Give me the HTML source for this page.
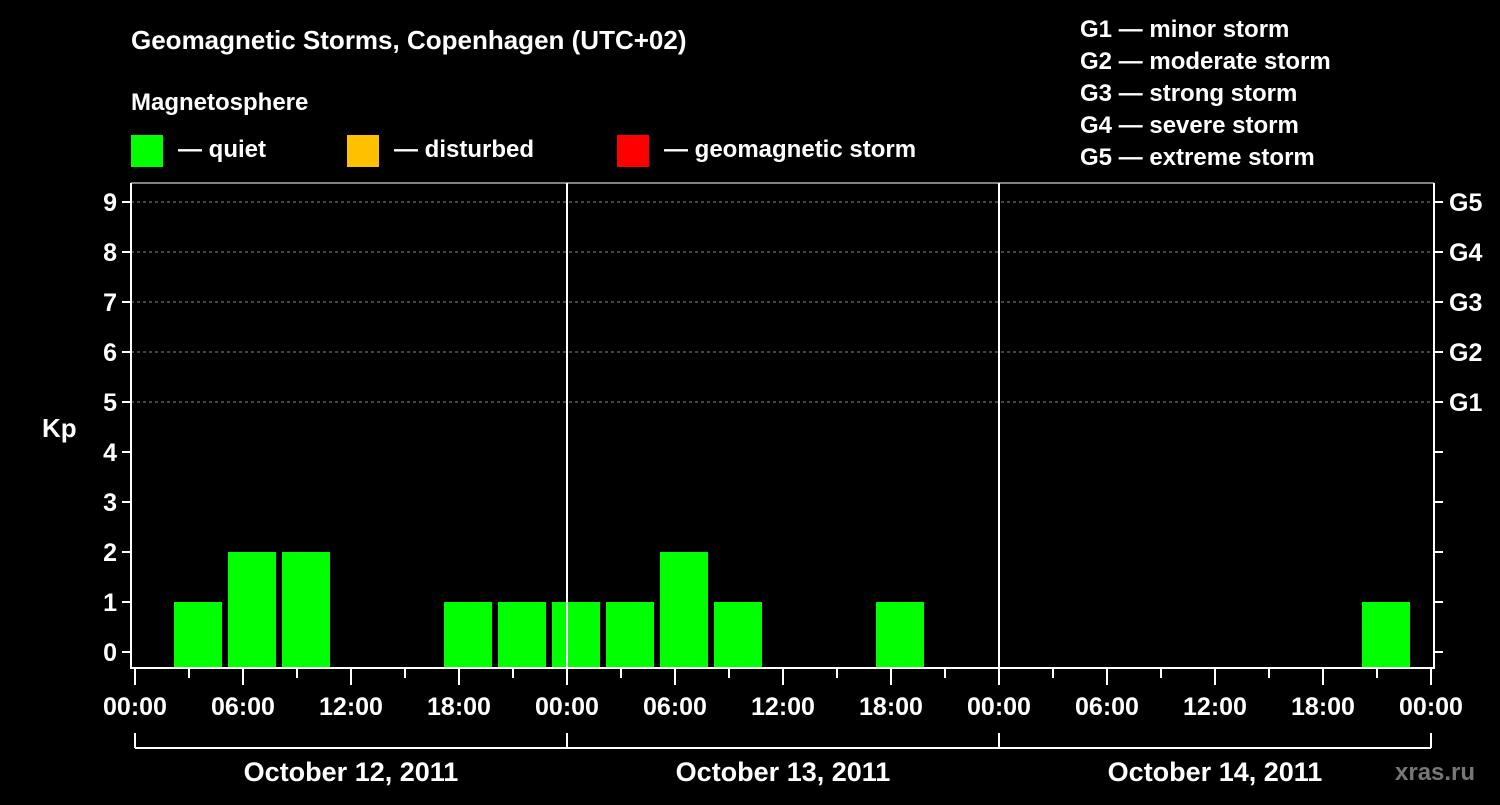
<!DOCTYPE html>
<html><head><meta charset="utf-8"><style>
html,body{margin:0;padding:0;background:#000;}
svg text{font-family:"Liberation Sans",sans-serif;font-weight:bold;fill:#fff;}
</style></head><body>
<svg id="chart" width="1500" height="800" xmlns="http://www.w3.org/2000/svg">
<rect width="1500" height="800" fill="#000"/>
<text x="131" y="49" font-size="26">Geomagnetic Storms, Copenhagen (UTC+02)</text>
<text x="131" y="110" font-size="24">Magnetosphere</text>
<g><rect x="131" y="135" width="32" height="32" fill="#00ff00"/><text x="178" y="157" font-size="24">— quiet</text></g>
<g><rect x="347" y="135" width="32" height="32" fill="#ffc000"/><text x="394" y="157" font-size="24">— disturbed</text></g>
<g><rect x="617" y="135" width="32" height="32" fill="#ff0000"/><text x="664" y="157" font-size="24">— geomagnetic storm</text></g>
<g font-size="24">
<text x="1080" y="37">G1 — minor storm</text>
<text x="1080" y="69">G2 — moderate storm</text>
<text x="1080" y="101">G3 — strong storm</text>
<text x="1080" y="133">G4 — severe storm</text>
<text x="1080" y="165">G5 — extreme storm</text>
</g>
<text x="42" y="437" font-size="26">Kp</text>
<text x="1395" y="780" font-size="24" fill="#777" style="fill:#777">xras.ru</text>
<g id="grid"></g><g id="bars"></g><g id="axes"></g>
</svg>
<script>
const kpValues=[0,1,2,2,0,0,1,1,1,1,2,1,0,0,1,0,0,0,0,0,0,0,0,1];
const yTickLabels=["0","1","2","3","4","5","6","7","8","9"];
const gLabels=["","","","","","G1","G2","G3","G4","G5"];
const xTickLabels=["00:00","06:00","12:00","18:00","00:00","06:00","12:00","18:00","00:00","06:00","12:00","18:00","00:00"];
const dayLabels=["October 12, 2011","October 13, 2011","October 14, 2011"];
const NS="http://www.w3.org/2000/svg";
const X0=135,DAY=432,SLOT=54,BOTTOM=668,LEFT=131,RIGHT=1434,TOP=183;
function yOf(v){return 652-v*50;}
function xOfHour(h){return X0+h*DAY/24;}
function mk(tag,attrs,parent){const e=document.createElementNS(NS,tag);for(const k in attrs)e.setAttribute(k,attrs[k]);parent.appendChild(e);return e;}
const grid=document.getElementById('grid'),bars=document.getElementById('bars'),axes=document.getElementById('axes');
for(let i=5;i<yTickLabels.length;i++){
  const l=mk('line',{x1:LEFT,x2:RIGHT,y1:yOf(i),y2:yOf(i),stroke:'#888','stroke-dasharray':'3,3','stroke-width':1},grid);
  
  
}
kpValues.forEach((v,k)=>{
  if(v<=0)return;
  const cx=xOfHour(k*3)+9;
  const col=v>=5?'#ff0000':(v>=4?'#ffc000':'#00ff00');
  const r=mk('rect',{x:cx-24,y:yOf(v),width:48,height:BOTTOM-1-yOf(v),fill:col},bars);
  
  
});
// axes frame
mk('line',{x1:LEFT,x2:LEFT,y1:TOP,y2:BOTTOM+1,stroke:'#fff','stroke-width':2},axes);
mk('line',{x1:RIGHT,x2:RIGHT,y1:TOP,y2:BOTTOM+1,stroke:'#fff','stroke-width':2},axes);
mk('line',{x1:LEFT,x2:RIGHT,y1:BOTTOM,y2:BOTTOM,stroke:'#fff','stroke-width':2},axes);
mk('line',{x1:LEFT,x2:RIGHT,y1:TOP,y2:TOP,stroke:'#fff','stroke-width':1},axes);
[1,2].forEach(d=>{mk('line',{x1:X0+d*DAY,x2:X0+d*DAY,y1:TOP,y2:BOTTOM,stroke:'#fff','stroke-width':2},axes);});
yTickLabels.forEach((t,i)=>{
  const y=yOf(i);
  mk('line',{x1:LEFT-9,x2:LEFT,y1:y,y2:y,stroke:'#fff','stroke-width':2},axes);
  mk('line',{x1:RIGHT,x2:RIGHT+9,y1:y,y2:y,stroke:'#fff','stroke-width':2},axes);
  const tx=mk('text',{x:LEFT-14,y:y+9,'font-size':25,'text-anchor':'end'},axes);tx.textContent=t;
  
  
  if(gLabels[i]){const g=mk('text',{x:RIGHT+15,y:y+9,'font-size':25},axes);g.textContent=gLabels[i];
  
  }
});
for(let h=0;h<=72;h+=3){
  const x=xOfHour(h);const major=h%6===0;
  mk('line',{x1:x,x2:x,y1:BOTTOM,y2:BOTTOM+(major?17:10),stroke:'#fff','stroke-width':2},axes);
}
xTickLabels.forEach((t,i)=>{
  const tx=mk('text',{x:xOfHour(i*6),y:715,'font-size':25,'text-anchor':'middle'},axes);tx.textContent=t;
  
  
});
mk('line',{x1:X0,x2:X0+3*DAY,y1:748,y2:748,stroke:'#fff','stroke-width':2},axes);
for(let d=0;d<=3;d++)mk('line',{x1:X0+d*DAY,x2:X0+d*DAY,y1:733,y2:748,stroke:'#fff','stroke-width':2},axes);
dayLabels.forEach((t,i)=>{
  const tx=mk('text',{x:X0+i*DAY+DAY/2,y:781,'font-size':27,'text-anchor':'middle'},axes);tx.textContent=t;
  
  
});
</script>
</body></html>
